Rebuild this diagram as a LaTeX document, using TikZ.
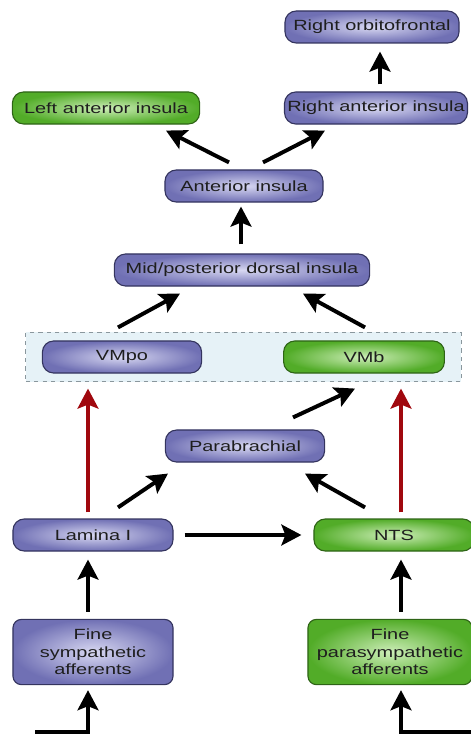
\documentclass[tikz,border=0pt]{standalone}
\usepackage{fontspec}
\setmainfont{Liberation Sans}[FakeStretch=1.35]
\usetikzlibrary{arrows.meta, positioning, calc, fit, backgrounds}
\definecolor{insPurple}{HTML}{7070B4}
\definecolor{insPurpleL}{HTML}{D8D8F2}
\definecolor{insPurpleD}{HTML}{34345E}
\definecolor{insGreen}{HTML}{52AC28}
\definecolor{insGreenL}{HTML}{CDEEB8}
\definecolor{insGreenD}{HTML}{2E6416}
\definecolor{vmBlue}{HTML}{E6F2F7}
\definecolor{vmGray}{HTML}{8A979D}
\definecolor{afRed}{HTML}{A0080E}
\definecolor{labelInk}{HTML}{1E1E1E}
\tikzset{
  arrowK/.style={-{Stealth[length=5mm,width=5.2mm,inset=1mm]}, black, line width=2.8pt},
  arrowRed/.style={-{Stealth[length=5mm,width=5.2mm,inset=1mm]}, afRed, line width=2.8pt},
  boxP/.style={rectangle, rounded corners=8pt, draw=insPurpleD, line width=0.8pt,
               inner color=insPurpleL, outer color=insPurple, text=labelInk,
               align=center, font=\fontsize{10.5}{12.5}\selectfont,
               inner sep=2pt, minimum height=0.8cm},
  boxG/.style={boxP, draw=insGreenD, inner color=insGreenL, outer color=insGreen},
  groupBox/.style={rectangle, draw=vmGray, dashed, fill=vmBlue, line width=0.6pt,
                   inner xsep=0.4cm, inner ysep=0.2cm},
}
\begin{document}
\begin{tikzpicture}[x=0.025cm, y=-0.025cm]
  \useasboundingbox (0,0) rectangle (470,734);
  % cortex
  \node[boxP, minimum width=4.35cm] (orbito) at (372,27) {Right orbitofrontal};
  \node[boxG, minimum width=4.68cm] (leftAnt) at (106,108) {Left anterior insula};
  \node[boxP, minimum width=4.55cm] (rightAnt) at (376,108) {Right anterior insula};
  \node[boxP, minimum width=3.95cm] (antIns) at (244,186) {Anterior insula};
  \node[boxP, minimum width=6.38cm] (midIns) at (242,270) {Mid/posterior dorsal insula};
  % thalamus
  \node[boxP, minimum width=3.98cm] (vmpo) at (122,357) {VMpo};
  \node[boxG, minimum width=4.02cm] (vmb) at (364,357) {VMb};
  \begin{scope}[on background layer]
    \node[groupBox, fit=(vmpo)(vmb)] (thal) {};
  \end{scope}
  % brainstem and spinal cord
  \node[boxP, minimum width=3.98cm] (para) at (245,446) {Parabrachial};
  \node[boxP, minimum width=4cm] (lamina) at (93,535) {Lamina I};
  \node[boxG, minimum width=4cm] (nts) at (394,535) {NTS};
  \node[boxP, rounded corners=6pt, minimum width=4cm, minimum height=1.63cm] (fineS) at (93,652)
    {Fine\\sympathetic\\afferents};
  \node[boxG, rounded corners=6pt, minimum width=4.1cm, minimum height=1.63cm] (fineP) at (390,652)
    {Fine\\parasympathetic\\afferents};
  \coordinate (inS) at (35,732);
  \coordinate (inP) at (472,732);

  % arrows
  \draw[arrowK] ([shift={(4,-7)}]rightAnt.north) -- ([shift={(8,8)}]orbito.south);
  \draw[arrowK] ([shift={(-15,-7)}]antIns.north) -- ([shift={(60,6)}]leftAnt.south);
  \draw[arrowK] ([shift={(19,-7)}]antIns.north) -- ([shift={(-51,6)}]rightAnt.south);
  \draw[arrowK] ([shift={(-1,-9)}]midIns.north) -- ([shift={(-3,4)}]antIns.south);
  \draw[arrowK] ([shift={(-4,-13)}]vmpo.north) -- ([shift={(-62,7)}]midIns.south);
  \draw[arrowK] ([shift={(1,-13)}]vmb.north) -- ([shift={(61,7)}]midIns.south);
  \draw[arrowK] ([shift={(48,-12)}]para.north) -- ([shift={(-9,15)}]vmb.south);
  \draw[arrowRed] ([shift={(-5,-6)}]lamina.north) -- ([shift={(-34,15)}]vmpo.south);
  \draw[arrowRed] ([shift={(7,-6)}]nts.north) -- ([shift={(37,15)}]vmb.south);
  \draw[arrowK] ([shift={(25,-11)}]lamina.north) -- ([shift={(-77,11)}]para.south);
  \draw[arrowK] ([shift={(-29,-11)}]nts.north) -- ([shift={(60,11)}]para.south);
  \draw[arrowK] ([shift={(11,0)}]lamina.east) -- ([shift={(-12,0)}]nts.west);
  \draw[arrowK] ([shift={(-5,-7)}]fineS.north) -- ([shift={(-5,8)}]lamina.south);
  \draw[arrowK] ([shift={(11,-7)}]fineP.north) -- ([shift={(7,8)}]nts.south);
  \draw[arrowK] (inS) -| ([shift={(-5,5)}]fineS.south);
  \draw[arrowK] (inP) -| ([shift={(11,5)}]fineP.south);
\end{tikzpicture}
\end{document}
